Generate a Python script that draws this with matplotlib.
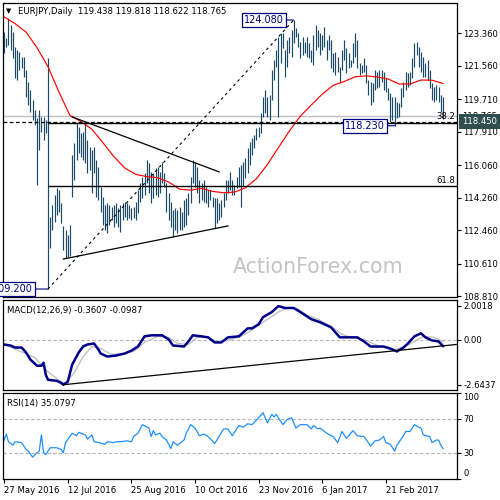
import matplotlib
matplotlib.use('Agg')
import matplotlib.pyplot as plt
from matplotlib.transforms import blended_transform_factory

plt.rcParams['font.family'] = ['DejaVu Sans']

# ---------------- data ----------------
highs = [123.42, 123.09, 124.19, 123.81, 123.42, 122.59, 122.42, 122.31, 122.04, 122.04,
         121.32, 120.65, 120.21, 119.66, 119.10, 118.66, 119.10, 118.72, 118.72, 118.55,
         121.98,
         113.19, 113.85, 114.40, 114.79, 114.68, 113.96, 112.69, 112.47, 112.19, 112.74,
         116.62, 117.28, 118.39, 118.16, 117.83, 117.89, 118.39, 117.44, 117.06, 116.89,
         117.06, 116.34, 115.95, 114.85, 114.29, 113.85, 113.96, 113.85, 113.74, 113.85,
         113.96, 113.68, 113.85, 113.96, 114.02, 113.96, 113.85, 113.68, 113.74, 114.02,
         114.68, 115.07, 115.40, 115.62, 116.34, 116.17, 115.67, 115.62, 115.90, 115.95,
         115.67, 116.23, 115.62, 115.07, 114.51, 114.02, 113.57, 113.68, 113.57, 113.74,
         113.46, 114.13, 114.24, 114.51, 115.40, 116.34, 116.23, 115.95, 115.23, 115.07,
         115.23, 114.85, 114.68, 114.68, 114.29, 114.24, 114.24, 113.96, 114.13, 114.51,
         115.23, 115.23, 115.67, 115.23, 114.96, 115.40, 115.95,
         116.06, 116.23, 116.45, 117.00, 117.33, 117.56, 117.72, 118.11, 118.16, 118.94,
         119.82, 120.21, 119.82, 119.93, 121.32, 121.87, 122.42, 123.14, 123.36, 123.36,
         122.42, 122.98, 123.14, 123.53, 124.08, 123.64, 123.36, 122.87, 123.14, 122.87,
         123.14, 122.81, 122.42, 123.25, 123.81, 123.53, 123.36, 123.25, 123.70, 122.98,
         123.25, 122.98, 122.26,
         122.31, 122.04, 121.48, 122.42, 122.98, 122.53, 122.26, 121.87, 122.81, 123.36,
         122.98, 121.70, 121.59, 121.98, 121.59, 120.76, 120.65, 120.60, 121.32, 121.21,
         121.32, 121.32, 121.21, 120.87, 120.32, 120.04, 119.82, 119.82, 119.55, 119.49,
         120.32, 120.65, 121.21, 121.15, 121.21, 121.98, 122.81, 122.87, 122.59, 122.31,
         122.04, 121.70, 121.87, 121.32, 120.60, 120.38, 120.49, 120.38, 119.93, 119.82]

lows = [122.26, 122.59, 122.70, 122.42, 121.98, 120.87, 120.76, 121.32, 121.43, 120.93,
        119.82, 119.38, 118.99, 118.55, 118.27, 114.96, 116.89, 117.89, 117.44, 117.83,
        109.20,
        111.47, 112.47, 112.91, 113.30, 113.46, 112.85, 111.36, 110.92, 110.97, 111.03,
        114.29, 115.23, 116.34, 116.73, 116.50, 116.34, 116.17, 115.62, 115.79, 114.51,
        115.62, 114.29, 114.13, 113.46, 112.74, 112.47, 112.30, 112.74, 113.02, 112.63,
        112.85, 112.63, 112.36, 113.02, 113.19, 113.02, 113.13, 113.02, 113.13, 113.02,
        113.41, 114.02, 114.24, 114.40, 115.07, 114.51, 113.96, 114.24, 114.40, 114.29,
        114.51, 115.07, 114.85, 113.46, 113.02, 112.63, 112.08, 112.47, 112.30, 112.47,
        112.47, 112.63, 112.74, 113.30, 113.96, 115.07, 114.85, 114.51, 113.96, 114.13,
        114.02, 113.96, 113.74, 114.13, 113.74, 112.58, 112.85, 113.02, 113.19, 113.74,
        114.13, 114.51, 114.68, 114.40, 114.40, 114.79, 114.85,
        113.74, 114.90, 115.34, 115.62, 116.06, 116.62, 117.00, 117.44, 117.61, 117.83,
        118.72, 118.94, 118.72, 118.55, 119.66, 120.76, 121.48, 118.72, 121.70, 122.53,
        120.93, 121.48, 122.26, 122.04, 122.81, 123.14, 122.59, 121.98, 122.15, 122.26,
        122.04, 121.98, 121.76, 121.59, 122.42, 122.59, 122.15, 122.42, 122.59, 121.87,
        122.42, 121.43, 121.21,
        121.04, 121.21, 120.60, 121.32, 121.87, 121.15, 121.43, 121.48, 121.70, 122.04,
        121.43, 121.04, 121.15, 121.21, 120.60, 119.93, 119.38, 119.55, 120.21, 120.32,
        120.38, 120.65, 120.21, 120.10, 119.66, 118.44, 118.55, 118.23, 118.66, 118.72,
        119.27, 119.82, 120.21, 120.38, 120.49, 120.87, 121.48, 122.15, 121.48, 121.21,
        120.93, 120.93, 120.76, 120.32, 119.66, 119.55, 119.66, 119.55, 118.99, 118.62]

ma_idx = [0, 5, 10, 15, 20, 25, 30, 35, 40, 45, 50, 55, 60, 65, 70, 75, 80, 85, 90, 95,
          100, 105, 110, 115, 120, 125, 130, 135, 140, 145, 150, 155, 160, 165, 170, 175,
          180, 185, 190, 195, 200]
ma_vals = [124.25, 123.88, 123.41, 122.55, 121.50, 120.10, 118.80, 118.47, 118.04, 117.30,
           116.53, 115.89, 115.54, 115.42, 115.36, 115.12, 114.72, 114.67, 114.77, 114.60,
           114.53, 114.56, 114.80, 115.30, 116.09, 117.02, 117.94, 118.76, 119.38, 119.98,
           120.47, 120.68, 120.94, 120.99, 120.93, 120.82, 120.54, 120.54, 120.76, 120.75,
           120.57]

macd_idx = [0, 3, 5, 8, 10, 12, 15, 17, 18, 19, 20, 24, 26, 27, 29, 31, 34, 36, 38, 41,
            43, 44, 47, 51, 55, 58, 61, 64, 67, 72, 75, 77, 82, 84, 86, 90, 93, 96, 99, 102,
            107, 111, 113, 116, 118, 122, 125, 128, 132, 135, 140, 144, 149, 153, 157, 161,
            164, 167, 171, 173, 176, 179, 182, 184, 187, 190, 192, 195, 198, 200]
macd_vals = [-0.27, -0.33, -0.45, -0.45, -0.74, -1.16, -1.52, -1.52, -1.34, -2.05,
             -2.35, -2.41, -2.53, -2.64, -2.47, -1.46, -0.74, -0.39, -0.27, -0.21,
             -0.57, -0.80, -0.98, -0.92, -0.80, -0.63, -0.39, 0.21, 0.27, 0.27,
             0.03, -0.33, -0.39, -0.09, 0.27, 0.21, 0.15, -0.15, -0.15, 0.15,
             0.21, 0.68, 0.68, 0.92, 1.34, 1.64, 1.99, 1.88, 1.88, 1.64,
             1.22, 1.04, 0.74, 0.15, 0.15, 0.15, -0.09, -0.39, -0.39, -0.39,
             -0.51, -0.68, -0.45, -0.21, 0.21, 0.39, 0.15, -0.03, -0.09, -0.36]

signal_idx = [0, 14, 20, 26, 28, 32, 36, 40, 44, 49, 55, 59, 64, 70, 75, 79, 84, 88, 93, 97,
              102, 108, 112, 118, 125, 129, 134, 138, 143, 149, 154, 158, 164, 169, 173, 178,
              182, 187, 191, 196, 200]
signal_vals = [-0.27, -1.04, -1.88, -2.47, -2.53, -1.93, -0.98, -0.39, -0.51, -0.86,
               -0.80, -0.68, -0.15, 0.21, 0.15, -0.21, -0.27, 0.15, 0.15, -0.09,
               -0.03, 0.21, 0.51, 1.04, 1.64, 1.88, 1.82, 1.46, 1.22, 0.80,
               0.33, 0.15, 0.03, -0.27, -0.45, -0.57, -0.45, -0.09, 0.21, 0.15, -0.10]

rsi_idx = [0, 1, 2, 4, 5, 8, 10, 11, 13, 15, 16, 17, 18, 19, 21, 24, 26, 27, 28, 30,
           31, 33, 34, 36, 37, 38, 40, 41, 43, 46, 47, 50, 51, 53, 56, 58, 59, 61, 63, 66,
           67, 68, 69, 71, 72, 74, 76, 77, 79, 82, 83, 85, 87, 89, 91, 93, 96, 97, 100, 102,
           104, 107, 109, 111, 113, 116, 118, 120, 122, 123, 124, 127, 129, 131, 133, 135,
           138, 140, 141, 143, 144, 147, 150, 152, 154, 156, 158, 159, 161, 164, 166, 167,
           169, 171, 173, 174, 176, 178, 179, 182, 183, 185, 187, 189, 190, 191, 194, 195,
           197, 198, 199, 200]
rsi_vals = [45, 52, 43, 39, 43, 42, 34, 32, 25, 30, 32, 51, 30, 28, 36, 36, 34, 30, 42, 49,
            53, 50, 54, 52, 51, 46, 51, 43, 42, 40, 43, 42, 43, 43, 44, 43, 49, 53, 63, 59,
            49, 56, 51, 53, 49, 45, 35, 43, 39, 45, 53, 63, 59, 50, 52, 49, 41, 45, 58, 58,
            50, 62, 60, 64, 63, 71, 77, 65, 75, 72, 75, 63, 69, 71, 59, 63, 63, 58, 62, 58,
            59, 53, 49, 42, 55, 47, 53, 56, 50, 49, 42, 38, 44, 45, 49, 42, 40, 32, 39, 50,
            55, 55, 63, 60, 59, 51, 49, 42, 45, 45, 39, 35]

price_ticks = [123.36, 121.56, 119.71, 117.91, 116.06, 114.26, 112.46, 110.61, 108.81]
date_labels = ['27 May 2016', '12 Jul 2016', '25 Aug 2016', '10 Oct 2016',
               '23 Nov 2016', '6 Jan 2017', '21 Feb 2017']
date_tick_idx = [0, 29, 58, 87, 116, 145, 174]

swing_low_idx, swing_low = 20, 109.20
swing_high_idx, swing_high = 132, 124.08
recent_low_idx, recent_low = 178, 118.23
upper_tri = ([31, 98], [118.72, 115.68])
lower_tri = ([27, 102], [110.86, 112.69])
macd_trend = ([27, 206], [-2.64, -0.27])
hline_level = 118.45
last_close = 118.765

title_txt = 'EURJPY,Daily  119.438 119.818 118.622 118.765'
macd_txt = 'MACD(12,26,9) -0.3607 -0.0987'
rsi_txt = 'RSI(14) 35.0797'

# ---------------- figure ----------------
fig = plt.figure(figsize=(5, 5), dpi=100)
fig.patch.set_facecolor('white')
W = H = 500.0


def px_ax(left, top, right, bottom):
    return fig.add_axes([left / W, 1 - bottom / H, (right - left) / W, (bottom - top) / H])


ax1 = px_ax(3, 3, 457, 297)
ax2 = px_ax(3, 300, 457, 390)
ax3 = px_ax(3, 393, 457, 478.5)
XL = (-0.5, 206.4)
FS = 6.1
BAR_C = '#1b4a66'

for ax in (ax1, ax2, ax3):
    ax.set_xlim(*XL)
    ax.set_facecolor('white')
    for s in ax.spines.values():
        s.set_linewidth(0.9)
        s.set_color('black')
    ax.yaxis.tick_right()
    ax.tick_params(axis='y', which='both', length=3, width=0.8, pad=1.5,
                   labelsize=FS, direction='out', left=False, right=True,
                   labelleft=False, labelright=True)

# ---- main price panel ----
ax1.set_ylim(108.76, 125.02)
ax1.set_xticks([])
ax1.set_yticks(price_ticks)
ax1.set_yticklabels([f'{v:.3f}' for v in price_ticks])

ax1.axhline(last_close, color='#c0c0c0', lw=1.0, zorder=1)
idx = list(range(len(highs)))
ax1.vlines(idx, lows, highs, color=BAR_C, lw=0.85, zorder=3)
ax1.plot(ma_idx, ma_vals, color='#ff0000', lw=0.85, zorder=4)

rng = swing_high - swing_low
fib382 = swing_high - 0.382 * rng
fib618 = swing_high - 0.618 * rng
ax1.hlines([fib382, fib618], swing_low_idx, XL[1], color='black', lw=1.0, zorder=5)
ax1.axhline(hline_level, color='black', lw=0.9, ls=(0, (3, 2)), zorder=5)
ax1.plot([swing_low_idx, swing_high_idx], [swing_low, swing_high], color='black',
         lw=0.8, ls=(0, (2.5, 3)), zorder=5)
ax1.plot(*upper_tri, color='black', lw=0.9, zorder=5)
ax1.plot(*lower_tri, color='black', lw=0.9, zorder=5)

bt = blended_transform_factory(ax1.transAxes, ax1.transData)
ax1.text(0.997, fib382 + 0.08, '38.2', transform=bt, ha='right', va='bottom', fontsize=FS)
ax1.text(0.997, fib618 + 0.08, '61.8', transform=bt, ha='right', va='bottom', fontsize=FS)

box = dict(boxstyle='square,pad=0.2', fc='white', ec='#000080', lw=0.9)
arr = dict(arrowstyle='-', color='#000080', lw=0.8, shrinkA=0, shrinkB=0)
ax1.annotate(f'{swing_high:.3f}', xy=(swing_high_idx, swing_high), xytext=(-7, 0),
             textcoords='offset points', ha='right', va='center', fontsize=7,
             color='#000080', bbox=box, arrowprops=arr, zorder=6)
ax1.annotate(f'{recent_low:.3f}', xy=(recent_low_idx, recent_low), xytext=(-7, 0),
             textcoords='offset points', ha='right', va='center', fontsize=7,
             color='#000080', bbox=box, arrowprops=arr, zorder=6)
ax1.annotate(f'{swing_low:.3f}', xy=(swing_low_idx, swing_low), xytext=(-11, 0),
             textcoords='offset points', ha='right', va='center', fontsize=7,
             color='#000080', bbox=box, arrowprops=arr, zorder=6, annotation_clip=False)

ax1.text(1.011, last_close, f'{last_close:.3f}', transform=bt, ha='left', va='center',
         fontsize=FS, clip_on=False)
ax1.text(1.011, hline_level, f'{hline_level:.3f}', transform=bt, ha='left', va='center',
         fontsize=FS, color='white', clip_on=False,
         bbox=dict(boxstyle='square,pad=0.35', fc='#2f4f4f', ec='none'))

fig.text(233 / W, 1 - 273 / H, 'ActionForex.com', fontsize=14.8, color='#c4c4c4',
         ha='left', va='baseline')
fig.text(6 / W, 1 - 11 / H, '\u25BC', fontsize=5, ha='left', va='center')
fig.text(18 / W, 1 - 11 / H, title_txt, fontsize=FS, ha='left', va='center')

# ---- MACD panel ----
ax2.set_ylim(-2.95, 2.35)
ax2.set_xticks([])
ax2.set_yticks([2.0018, 0.0, -2.6437])
ax2.set_yticklabels(['2.0018', '0.00', '-2.6437'])
ax2.axhline(0, color='#b4b4b4', lw=0.8, ls=(0, (3, 2)))
ax2.plot(signal_idx, signal_vals, color='#bdbdbd', lw=0.9)
ax2.plot(macd_idx, macd_vals, color='#00008b', lw=1.8)
ax2.plot(*macd_trend, color='black', lw=0.9)
ax2.text(0.009, 0.88, macd_txt, transform=ax2.transAxes, fontsize=FS, ha='left', va='center')

# ---- RSI panel ----
ax3.set_ylim(0, 100)
ax3.set_yticks([100, 70, 30, 0])
ax3.set_yticklabels(['100', '70', '30', '0'])
labs = ax3.get_yticklabels()
labs[0].set_va('top')
labs[-1].set_va('bottom')
for lv in (70, 30):
    ax3.axhline(lv, color='#b4b4b4', lw=0.8, ls=(0, (3, 2)))
ax3.plot(rsi_idx, rsi_vals, color='#1e90ff', lw=0.9)
ax3.text(0.009, 0.88, rsi_txt, transform=ax3.transAxes, fontsize=FS, ha='left', va='center')
ax3.set_xticks(date_tick_idx)
ax3.set_xticklabels(date_labels)
ax3.tick_params(axis='x', length=3, width=0.8, pad=2.5, labelsize=FS, direction='out')
for t in ax3.get_xticklabels():
    t.set_ha('left')

fig.savefig('out.png', dpi=100, facecolor='white')
